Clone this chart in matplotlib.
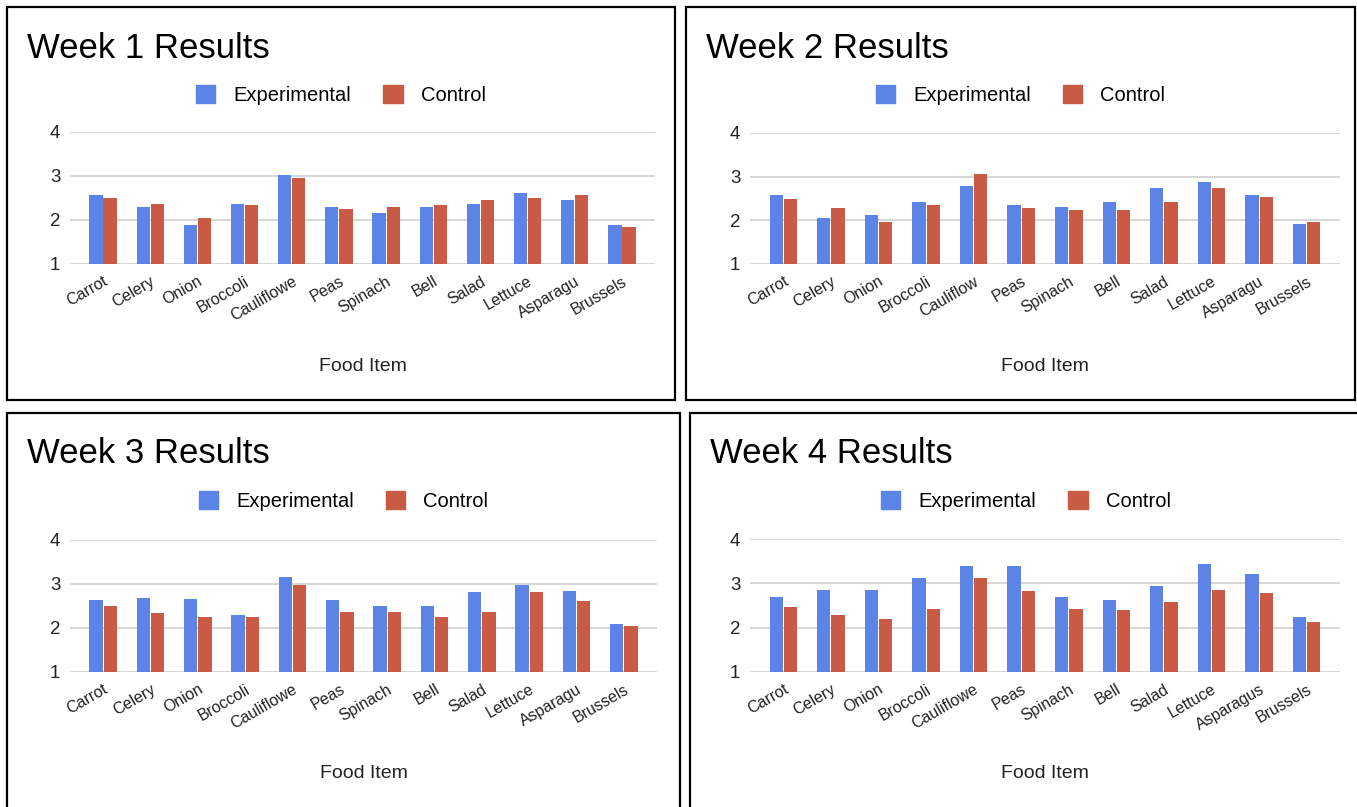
import numpy as np
import matplotlib
matplotlib.use("Agg")
import matplotlib.pyplot as plt
from matplotlib.patches import Rectangle, Patch

plt.rcParams['font.family'] = ['Liberation Sans', 'DejaVu Sans']

foods = ["Carrot", "Celery", "Onion", "Broccoli", "Cauliflowe", "Peas", "Spinach",
         "Bell", "Salad", "Lettuce", "Asparagu", "Brussels"]
foods_w2 = ["Carrot", "Celery", "Onion", "Broccoli", "Cauliflow", "Peas", "Spinach",
            "Bell", "Salad", "Lettuce", "Asparagu", "Brussels"]
foods_w4 = ["Carrot", "Celery", "Onion", "Broccoli", "Cauliflowe", "Peas", "Spinach",
            "Bell", "Salad", "Lettuce", "Asparagus", "Brussels"]

exp_w1 = [2.57, 2.29, 1.89, 2.37, 3.02, 2.29, 2.17, 2.29, 2.37, 2.62, 2.45, 1.89]
ctl_w1 = [2.50, 2.37, 2.05, 2.33, 2.95, 2.25, 2.29, 2.33, 2.45, 2.50, 2.57, 1.84]
exp_w2 = [2.57, 2.05, 2.13, 2.41, 2.79, 2.36, 2.31, 2.41, 2.74, 2.87, 2.57, 1.91]
ctl_w2 = [2.48, 2.28, 1.96, 2.36, 3.05, 2.28, 2.23, 2.23, 2.41, 2.74, 2.53, 1.97]
exp_w3 = [2.64, 2.69, 2.65, 2.29, 3.17, 2.64, 2.49, 2.49, 2.82, 2.97, 2.85, 2.08]
ctl_w3 = [2.49, 2.33, 2.24, 2.24, 2.97, 2.37, 2.37, 2.24, 2.37, 2.82, 2.61, 2.04]
exp_w4 = [2.70, 2.86, 2.86, 3.13, 3.40, 3.40, 2.70, 2.62, 2.93, 3.43, 3.21, 2.24]
ctl_w4 = [2.47, 2.28, 2.20, 2.43, 3.13, 2.82, 2.43, 2.40, 2.59, 2.86, 2.79, 2.12]

blue = '#5b84e6'
red = '#c95b45'
W, H = 1357, 807

fig = plt.figure(figsize=(W / 100, H / 100), dpi=100)

# (title, labels, exp, ctl, panel box [x0, y0, x1, y1] px, axes [left, right, y_of_4, y_of_1] px)
panels = [
    ("Week 1 Results", foods, exp_w1, ctl_w1, (7, 7, 675, 400), (70, 655, 132, 264)),
    ("Week 2 Results", foods_w2, exp_w2, ctl_w2, (686, 7, 1355, 400), (750, 1340, 133, 264)),
    ("Week 3 Results", foods, exp_w3, ctl_w3, (7, 413, 680, 812), (70, 657, 540, 672)),
    ("Week 4 Results", foods_w4, exp_w4, ctl_w4, (690, 413, 1362, 812), (750, 1340, 539, 672)),
]

for title, labels, exp, ctl, box, ax_px in panels:
    bx0, by0, bx1, by1 = box
    fig.add_artist(Rectangle((bx0 / W, 1 - by1 / H), (bx1 - bx0) / W, (by1 - by0) / H,
                             transform=fig.transFigure, fill=False, ec='black', lw=1.6))
    l, r, t, b = ax_px
    ax = fig.add_axes([l / W, 1 - b / H, (r - l) / W, (b - t) / H])
    x = np.arange(len(labels))
    ax.bar(x - 0.15, exp, width=0.28, color=blue, zorder=3)
    ax.bar(x + 0.15, ctl, width=0.28, color=red, zorder=3)
    ax.set_xlim(-0.7, len(labels) - 0.3)
    ax.set_ylim(1, 4)
    ax.set_yticks([1, 2, 3, 4])
    ax.yaxis.grid(True, color='#d0d0d0', lw=1.2, zorder=0)
    for s in ax.spines.values():
        s.set_visible(False)
    ax.tick_params(length=0, labelsize=13.5, pad=7, colors='#222222')
    ax.set_xticks(x)
    ax.set_xticklabels(labels, rotation=30, ha='right', rotation_mode='anchor', fontsize=11.5)
    fig.text((bx0 + 20) / W, 1 - (by0 + 41) / H, title, fontsize=25, va='center', ha='left')
    handles = [Patch(color=blue, label='Experimental'), Patch(color=red, label='Control')]
    fig.legend(handles=handles, loc='center', ncol=2, frameon=False, fontsize=14.5,
               bbox_to_anchor=((bx0 + bx1) / 2 / W, 1 - (by0 + 88) / H),
               handlelength=0.95, handleheight=0.95, columnspacing=1.6, handletextpad=0.9)
    fig.text((l + r) / 2 / W, 1 - (by0 + 360) / H, 'Food Item', fontsize=14,
             ha='center', va='center', color='#222222')

fig.savefig('out.png', dpi=100)
